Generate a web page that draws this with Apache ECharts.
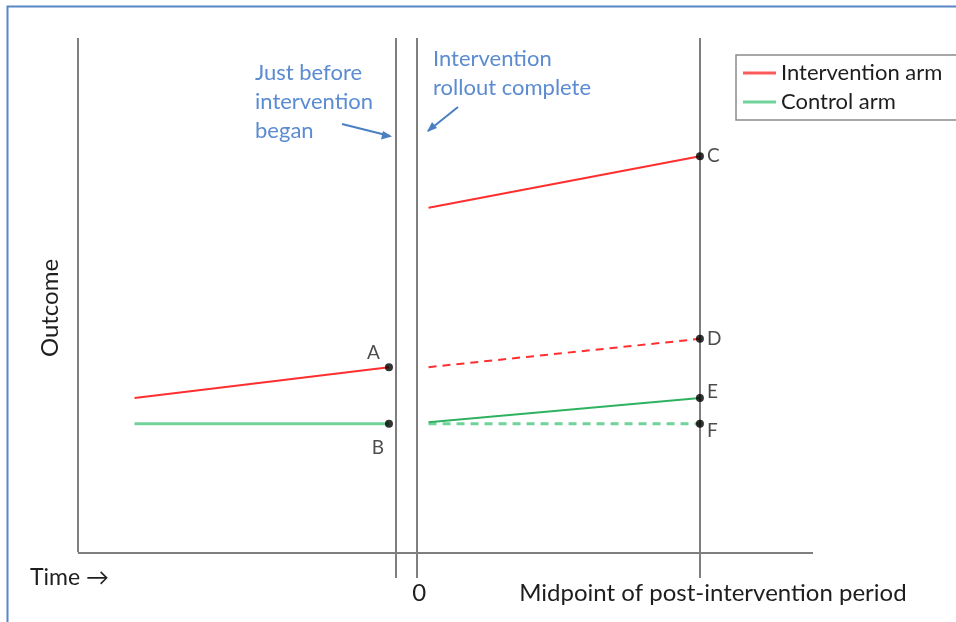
<!DOCTYPE html>
<html>
<head>
<meta charset="utf-8">
<script src="https://cdn.jsdelivr.net/npm/echarts@6/dist/echarts.min.js"></script>
<style>
html,body{margin:0;padding:0;background:#fff;}
#chart{width:956px;height:622px;}
</style>
</head>
<body>
<div id="chart"></div>
<script>
// ---- data ----
const xTickValues = [0, 10];
const xTickLabels = ['0', 'Midpoint of post-intervention period'];
const refLinesX = [-0.75, 0, 10];
const preX = [-10, -1];
const postX = [0.4, 10];
const redPre = [30, 36];
const greenPre = [25, 25];
const redPost = [67, 77];
const redCounterfactual = [36, 41.5];
const greenPost = [25.3, 30];
const greenCounterfactual = [25, 25];
const pointNames = ['A', 'B', 'C', 'D', 'E', 'F'];
const pointX = [-1, -1, 10, 10, 10, 10];
const pointY = [36, 25, 77, 41.5, 30, 25];
const legendNames = ['Intervention arm', 'Control arm'];

const FONT = 'Lato';
const RED = '#ff2f2f';
const GREEN_LIGHT = '#6fd39a';
const GREEN_DARK = '#2fb260';
const AXIS_GRAY = '#7f7f7f';
const BLUE = '#5b8bd0';
const TXT = '#1e1e1e';

const zip = (xs, ys) => xs.map((x, i) => [x, ys[i]]);

const labelPos = {
  A: { position: 'left', offset: [-2, -14] },
  B: { position: 'left', offset: [2, 24] },
  C: { position: 'right', offset: [0, 0] },
  D: { position: 'right', offset: [0, 0] },
  E: { position: 'right', offset: [0, -6] },
  F: { position: 'right', offset: [0, 7] }
};

const chart = echarts.init(document.getElementById('chart'), null, { renderer: 'canvas' });

const X_MIN = -12, X_MAX = 14, Y_MIN = -5, Y_MAX = 100;
const refLineData = refLinesX.map(x => [{ coord: [x, Y_MIN] }, { coord: [x, Y_MAX] }]);
refLineData.push([{ coord: [X_MIN, 0] }, { coord: [X_MIN, Y_MAX] }]);
refLineData.push([{ coord: [X_MIN, 0] }, { coord: [X_MAX, 0] }]);

chart.setOption({
  backgroundColor: '#fff',
  animation: false,
  textStyle: { fontFamily: FONT },
  grid: { left: 78, right: 143, top: 38, bottom: 44, outerBoundsMode: 'none', containLabel: false },
  legend: {
    orient: 'vertical',
    left: 736,
    top: 55,
    padding: [7, 80, 7, 7],
    borderColor: '#8a8a8a',
    borderWidth: 1.5,
    itemGap: 7,
    itemWidth: 33,
    itemHeight: 3,
    icon: 'rect',
    textStyle: { fontFamily: FONT, fontSize: 22, color: TXT },
    data: [
      { name: legendNames[0], itemStyle: { color: '#ff5a5a' } },
      { name: legendNames[1], itemStyle: { color: GREEN_LIGHT } }
    ]
  },
  xAxis: {
    type: 'value',
    min: X_MIN,
    max: X_MAX,
    axisLine: { show: false },
    axisTick: { show: false },
    splitLine: { show: false },
    axisLabel: {
      customValues: xTickValues,
      margin: 3,
      fontFamily: FONT,
      fontSize: 24,
      color: TXT,
      formatter: v => {
        const i = xTickValues.indexOf(v);
        if (i === 0) return '{z|' + xTickLabels[0] + '}';
        if (i === 1) return '{m|' + xTickLabels[1] + '}';
        return '';
      },
      rich: {
        z: { fontFamily: FONT, fontSize: 24, color: TXT, padding: [0, 0, 0, 4] },
        m: { fontFamily: FONT, fontSize: 24, color: TXT, padding: [0, 0, 0, 26] }
      }
    }
  },
  yAxis: {
    type: 'value',
    min: Y_MIN,
    max: Y_MAX,
    name: 'Outcome',
    nameLocation: 'middle',
    nameGap: 16,
    nameTextStyle: { fontFamily: FONT, fontSize: 24, color: TXT },
    axisLine: { show: false },
    axisTick: { show: false },
    axisLabel: { show: false },
    splitLine: { show: false }
  },
  series: [
    {
      name: 'refs', type: 'line', data: [], silent: true, clip: false,
      markLine: {
        silent: true, symbol: ['none', 'none'],
        label: { show: false },
        lineStyle: { color: AXIS_GRAY, width: 2, type: 'solid' },
        emphasis: { disabled: true },
        data: refLineData
      }
    },
    {
      name: legendNames[0], type: 'line', data: zip(preX, redPre),
      showSymbol: false, lineStyle: { color: RED, width: 2 }, itemStyle: { color: RED }
    },
    {
      name: legendNames[1], type: 'line', data: zip(preX, greenPre),
      showSymbol: false, lineStyle: { color: GREEN_LIGHT, width: 3 }, itemStyle: { color: GREEN_LIGHT }
    },
    {
      name: legendNames[0], type: 'line', data: zip(postX, redPost),
      showSymbol: false, lineStyle: { color: RED, width: 2 }, itemStyle: { color: RED }
    },
    {
      name: legendNames[0], type: 'line', data: zip(postX, redCounterfactual),
      showSymbol: false, lineStyle: { color: RED, width: 2, type: [8, 6] }, itemStyle: { color: RED }
    },
    {
      name: legendNames[1], type: 'line', data: zip(postX, greenCounterfactual),
      showSymbol: false, lineStyle: { color: GREEN_LIGHT, width: 3, type: [8, 6] }, itemStyle: { color: GREEN_LIGHT }
    },
    {
      name: legendNames[1], type: 'line', data: zip(postX, greenPost),
      showSymbol: false, lineStyle: { color: GREEN_DARK, width: 2 }, itemStyle: { color: GREEN_DARK }
    },
    {
      name: 'points', type: 'scatter', symbolSize: 8, z: 5,
      itemStyle: { color: '#000', borderWidth: 0 },
      data: pointNames.map((n, i) => ({
        value: [pointX[i], pointY[i]],
        name: n,
        label: Object.assign({ show: true, formatter: n, fontFamily: FONT, fontSize: 19, color: TXT, distance: 3 }, labelPos[n])
      }))
    }
  ],
  graphic: [
    {
      type: 'rect', left: 5, top: 4, silent: true,
      shape: { width: 1000, height: 700 },
      style: { fill: 'none', stroke: '#5b86c5', lineWidth: 2 }
    },
    {
      type: 'text', left: 255, top: 58, silent: true,
      style: { text: 'Just before\nintervention\nbegan', fill: BLUE, font: '22px ' + FONT, lineHeight: 29 }
    },
    {
      type: 'text', left: 433, top: 44, silent: true,
      style: { text: 'Intervention\nrollout complete', fill: BLUE, font: '22px ' + FONT, lineHeight: 29 }
    },
    {
      type: 'text', left: 30, top: 566, silent: true,
      style: { text: 'Time \u2192', fill: TXT, font: '23px ' + FONT }
    },
    {
      type: 'group', silent: true,
      children: [
        { type: 'line', shape: { x1: 342, y1: 124, x2: 390, y2: 136 }, style: { stroke: '#4a7fc1', lineWidth: 2 } },
        { type: 'polygon', shape: { points: [[392, 136.5], [381, 139.5], [383, 131]] }, style: { fill: '#4a7fc1' } },
        { type: 'line', shape: { x1: 458, y1: 107, x2: 428, y2: 131 }, style: { stroke: '#4a7fc1', lineWidth: 2 } },
        { type: 'polygon', shape: { points: [[427, 132], [432, 122], [437, 128]] }, style: { fill: '#4a7fc1' } }
      ]
    }
  ]
});
</script>
</body>
</html>
